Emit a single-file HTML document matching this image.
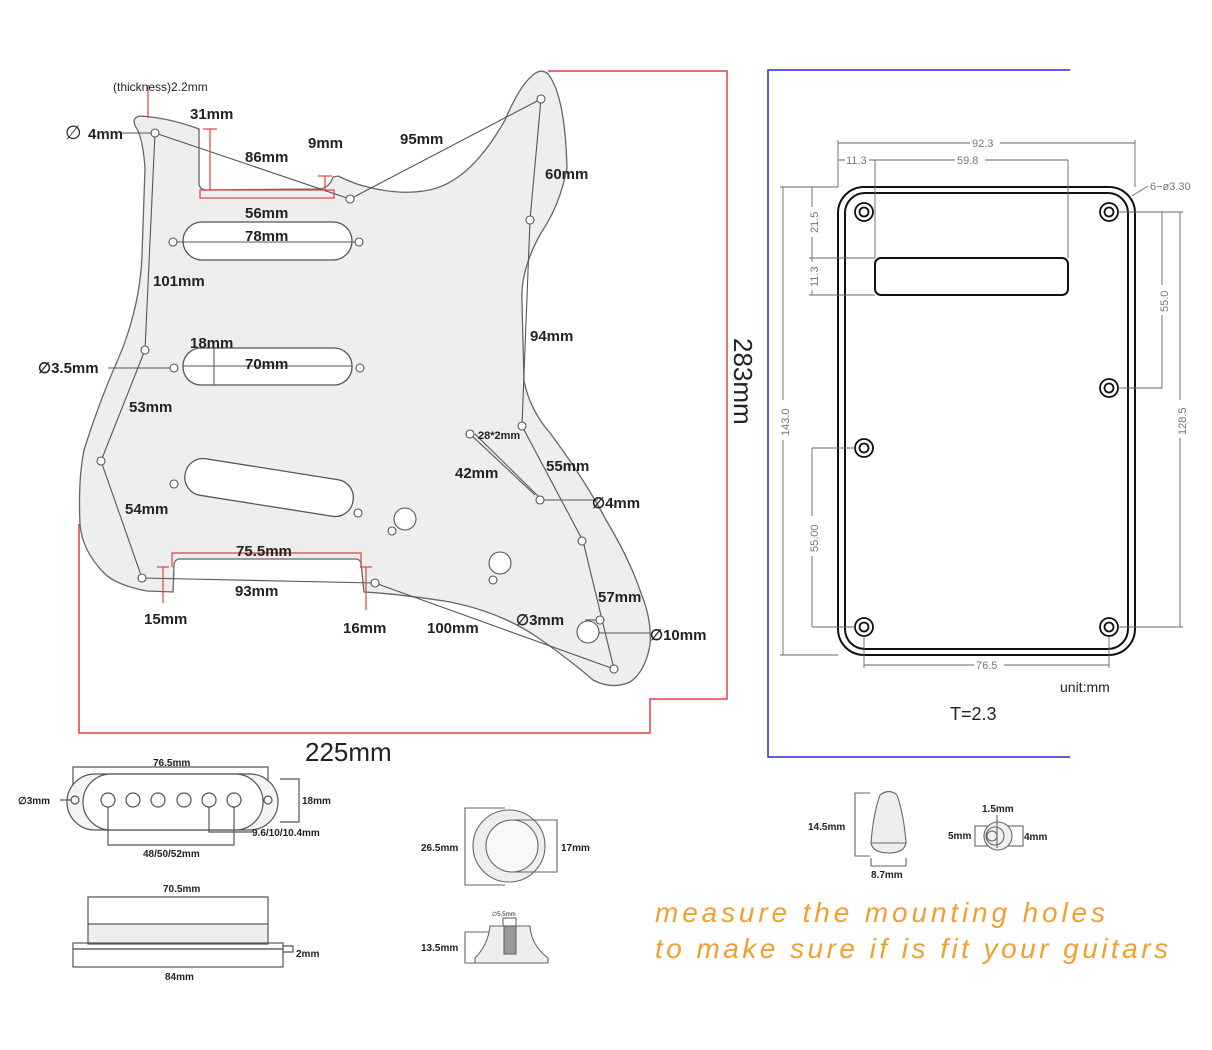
<!DOCTYPE html>
<html><head><meta charset="utf-8"><style>
html,body{margin:0;padding:0;background:#fff}
svg{display:block}
text{font-family:"Liberation Sans",sans-serif;fill:#222}
.b{font-weight:bold;font-size:15px}
.s{font-size:10px;font-weight:bold}
.g{font-size:11px;fill:#777}
</style></head><body>
<svg width="1212" height="1050" viewBox="0 0 1212 1050" xmlns="http://www.w3.org/2000/svg">
<!-- red frame -->
<path d="M548 71 H727 V699 H650 V733 H79 V524" fill="none" stroke="#e04040" stroke-width="1.5"/>
<!-- pickguard -->
<path d="M140 116 Q170 118 199 129 L199 184 Q200 190 207 190 L320 189 Q330 187 333 177 L338 176 Q355 184 364 186 Q400 196 429 190 Q470 182 505 120 Q520 85 533 75 Q541 68 548 74 Q565 95 567 168 Q560 205 541 233 Q520 270 522 303 L524 381 Q530 410 550 433 Q585 480 606 520 Q630 560 641 593 Q652 620 650 645 Q645 672 630 682 Q612 690 593 680 Q570 660 537 637 Q500 612 450 602 Q400 594 364 592 L361 563 Q360 559 355 559 L179 559 Q174 560 174 565 L173 592 L147 591 Q115 585 103 572 Q82 550 80 524 Q78 480 84 450 Q100 400 116 364 Q140 310 142 255 L145 168 Q143 140 137 129 Q130 118 140 116 Z" fill="#eeeeee" stroke="#666" stroke-width="1.3"/>
<!-- pickup slots -->
<rect x="183" y="222" width="169" height="38" rx="19" fill="#fff" stroke="#555" stroke-width="1.3"/>
<rect x="183" y="348" width="169" height="37" rx="18" fill="#fff" stroke="#555" stroke-width="1.3"/>
<rect x="184" y="469" width="170" height="37" rx="18" fill="#fff" stroke="#555" stroke-width="1.3" transform="rotate(9 269 488)"/>
<line x1="214" y1="348" x2="214" y2="385" stroke="#555"/>
<line x1="183" y1="366" x2="352" y2="366" stroke="#555"/>
<line x1="173" y1="242" x2="359" y2="242" stroke="#555"/>
<!-- dim lines -->
<g fill="none" stroke="#555" stroke-width="1.1">
<polyline points="155,133 350,199 541,99 530,220 522,426 583,541 614,669"/>
<polyline points="155,133 145,350 101,461 142,578 375,583 614,669"/>
<line x1="470" y1="434" x2="535" y2="495"/><line x1="475" y1="434" x2="540" y2="498"/>
<line x1="540" y1="500" x2="598" y2="500"/>
<line x1="108" y1="368" x2="174" y2="368"/>
<line x1="120" y1="133" x2="155" y2="133"/>
<line x1="585" y1="620" x2="596" y2="620"/>
<line x1="588" y1="633" x2="650" y2="633"/>
</g>
<!-- holes -->
<g fill="#fff" stroke="#555" stroke-width="1.1">
<circle cx="155" cy="133" r="4"/><circle cx="541" cy="99" r="4"/><circle cx="350" cy="199" r="4"/>
<circle cx="173" cy="242" r="4"/><circle cx="359" cy="242" r="4"/><circle cx="174" cy="368" r="4"/><circle cx="360" cy="368" r="4"/>
<circle cx="145" cy="350" r="4"/><circle cx="101" cy="461" r="4"/><circle cx="174" cy="484" r="4"/><circle cx="358" cy="513" r="4"/>
<circle cx="530" cy="220" r="4"/><circle cx="522" cy="426" r="4"/><circle cx="470" cy="434" r="4"/><circle cx="540" cy="500" r="4"/>
<circle cx="582" cy="541" r="4"/><circle cx="142" cy="578" r="4"/><circle cx="375" cy="583" r="4"/><circle cx="614" cy="669" r="4"/><circle cx="600" cy="620" r="4"/>
<circle cx="405" cy="519" r="11"/><circle cx="500" cy="563" r="11"/><circle cx="588" cy="632" r="11"/>
<circle cx="392" cy="531" r="4"/><circle cx="493" cy="580" r="4"/>
</g>
<!-- red small dims -->
<g fill="none" stroke="#e04040" stroke-width="1.2">
<line x1="148" y1="85" x2="148" y2="118"/>
<line x1="210" y1="129" x2="210" y2="190"/><line x1="203" y1="129" x2="217" y2="129"/>
<rect x="200" y="190" width="134" height="8"/>
<line x1="325" y1="176" x2="325" y2="190"/><line x1="318" y1="176" x2="332" y2="176"/>
<polyline points="172,567 172,553 361,553 361,567"/>
<line x1="163" y1="567" x2="163" y2="603"/><line x1="157" y1="567" x2="169" y2="567"/>
<line x1="366" y1="567" x2="366" y2="610"/><line x1="360" y1="567" x2="372" y2="567"/>
</g>
<!-- labels -->
<text x="113" y="91" font-size="12">(thickness)2.2mm</text>
<text x="65" y="139" font-size="19">∅</text><text x="88" y="139" class="b">4mm</text>
<text x="190" y="119" class="b">31mm</text>
<text x="308" y="148" class="b">9mm</text>
<text x="400" y="144" class="b">95mm</text>
<text x="245" y="162" class="b">86mm</text>
<text x="545" y="179" class="b">60mm</text>
<text x="245" y="218" class="b">56mm</text>
<text x="245" y="241" class="b">78mm</text>
<text x="153" y="286" class="b">101mm</text>
<text x="190" y="348" class="b">18mm</text>
<text x="245" y="369" class="b">70mm</text>
<text x="38" y="373" class="b">∅3.5mm</text>
<text x="530" y="341" class="b">94mm</text>
<text x="129" y="412" class="b">53mm</text>
<text x="478" y="439" font-size="11" font-weight="bold">28*2mm</text>
<text x="455" y="478" class="b">42mm</text>
<text x="546" y="471" class="b">55mm</text>
<text x="592" y="508" class="b">∅4mm</text>
<text x="125" y="514" class="b">54mm</text>
<text x="236" y="556" class="b">75.5mm</text>
<text x="235" y="596" class="b">93mm</text>
<text x="144" y="624" class="b">15mm</text>
<text x="343" y="633" class="b">16mm</text>
<text x="427" y="633" class="b">100mm</text>
<text x="516" y="625" class="b">∅3mm</text>
<text x="598" y="602" class="b">57mm</text>
<text x="650" y="640" class="b">∅10mm</text>
<text x="305" y="761" font-size="26">225mm</text>
<text transform="translate(734,338) rotate(90)" font-size="26">283mm</text>

<!-- backplate -->
<path d="M1070 70 H768 V757 H1070" fill="none" stroke="#2a2ad0" stroke-width="1.5"/>
<rect x="838" y="187" width="297" height="468" rx="26" fill="#fff" stroke="#111" stroke-width="2"/>
<rect x="845" y="193" width="283" height="456" rx="20" fill="none" stroke="#111" stroke-width="2"/>
<rect x="875" y="258" width="193" height="37" rx="6" fill="#fff" stroke="#111" stroke-width="2"/>
<g fill="none" stroke="#111" stroke-width="1.8">
<circle cx="864" cy="212" r="9"/><circle cx="864" cy="212" r="4.5"/>
<circle cx="1109" cy="212" r="9"/><circle cx="1109" cy="212" r="4.5"/>
<circle cx="1109" cy="388" r="9"/><circle cx="1109" cy="388" r="4.5"/>
<circle cx="864" cy="448" r="9"/><circle cx="864" cy="448" r="4.5"/>
<circle cx="864" cy="627" r="9"/><circle cx="864" cy="627" r="4.5"/>
<circle cx="1109" cy="627" r="9"/><circle cx="1109" cy="627" r="4.5"/>
</g>
<g fill="none" stroke="#666" stroke-width="0.9">
<line x1="838" y1="143" x2="1135" y2="143"/><line x1="838" y1="140" x2="838" y2="187"/><line x1="1135" y1="140" x2="1135" y2="187"/>
<line x1="838" y1="160" x2="1068" y2="160"/><line x1="875" y1="160" x2="875" y2="258"/><line x1="1068" y1="160" x2="1068" y2="258"/>
<line x1="783" y1="187" x2="783" y2="655"/><line x1="780" y1="187" x2="838" y2="187"/><line x1="780" y1="655" x2="838" y2="655"/>
<line x1="812" y1="187" x2="812" y2="295"/><line x1="809" y1="258" x2="875" y2="258"/><line x1="809" y1="295" x2="875" y2="295"/>
<line x1="812" y1="448" x2="812" y2="627"/><line x1="812" y1="448" x2="855" y2="448"/><line x1="812" y1="627" x2="855" y2="627"/>
<line x1="1162" y1="212" x2="1162" y2="388"/><line x1="1118" y1="212" x2="1183" y2="212"/><line x1="1118" y1="388" x2="1162" y2="388"/>
<line x1="1180" y1="212" x2="1180" y2="627"/><line x1="1118" y1="627" x2="1183" y2="627"/>
<line x1="864" y1="665" x2="1109" y2="665"/><line x1="864" y1="636" x2="864" y2="668"/><line x1="1109" y1="636" x2="1109" y2="668"/>
<line x1="1132" y1="196" x2="1148" y2="186"/>
</g>
<g class="g">
<rect x="970" y="137" width="30" height="12" fill="#fff"/><text x="972" y="147" class="g">92.3</text>
<rect x="845" y="154" width="24" height="12" fill="#fff"/><text x="846" y="164" class="g">11.3</text>
<rect x="955" y="154" width="30" height="12" fill="#fff"/><text x="957" y="164" class="g">59.8</text>
<text x="1150" y="190" class="g">6−ø3.30</text>
<rect x="974" y="659" width="30" height="12" fill="#fff"/><text x="976" y="669" class="g">76.5</text>
<rect x="777" y="400" width="12" height="40" fill="#fff"/><text transform="translate(789,436) rotate(-90)" class="g">143.0</text>
<rect x="806" y="207" width="12" height="30" fill="#fff"/><text transform="translate(818,233) rotate(-90)" class="g">21.5</text>
<rect x="806" y="262" width="12" height="28" fill="#fff"/><text transform="translate(818,287) rotate(-90)" class="g">11.3</text>
<rect x="806" y="516" width="12" height="40" fill="#fff"/><text transform="translate(818,552) rotate(-90)" class="g">55.00</text>
<rect x="1156" y="285" width="12" height="30" fill="#fff"/><text transform="translate(1168,312) rotate(-90)" class="g">55.0</text>
<rect x="1174" y="400" width="12" height="38" fill="#fff"/><text transform="translate(1186,435) rotate(-90)" class="g">128.5</text>
</g>
<text x="1060" y="692" font-size="14">unit:mm</text>
<text x="950" y="720" font-size="18">T=2.3</text>

<!-- pickup top view -->
<g fill="none" stroke="#555" stroke-width="1.2">
<polyline points="73,790 73,767 268,767 268,790"/>
<rect x="67" y="774" width="211" height="56" rx="28" fill="#f4f4f4"/>
<rect x="83" y="774" width="180" height="56" rx="28" fill="#fff"/>
<circle cx="108" cy="800" r="7"/><circle cx="133" cy="800" r="7"/><circle cx="158" cy="800" r="7"/><circle cx="184" cy="800" r="7"/><circle cx="209" cy="800" r="7"/><circle cx="234" cy="800" r="7"/>
<circle cx="75" cy="800" r="4"/><circle cx="268" cy="800" r="4"/>
<line x1="60" y1="800" x2="71" y2="800"/>
<polyline points="280,779 299,779 299,822 280,822"/>
<polyline points="108,807 108,845 234,845 234,807"/>
<polyline points="209,807 209,832 252,832"/>
</g>
<text x="18" y="804" font-size="10" font-weight="bold">∅3mm</text>
<text x="153" y="766" font-size="10" font-weight="bold">76.5mm</text>
<text x="302" y="804" class="s">18mm</text>
<text x="252" y="836" class="s">9.6/10/10.4mm</text>
<text x="143" y="857" class="s">48/50/52mm</text>
<!-- pickup side view -->
<g fill="none" stroke="#555" stroke-width="1.2">
<rect x="88" y="924" width="180" height="20" fill="#eeeeee"/>
<polyline points="88,924 88,897 268,897 268,924"/>
<rect x="73" y="943" width="210" height="6"/>
<rect x="73" y="949" width="210" height="18"/>
<polyline points="283,946 293,946 293,952 283,952"/>
</g>
<text x="163" y="892" class="s">70.5mm</text>
<text x="296" y="957" class="s">2mm</text>
<text x="165" y="980" class="s">84mm</text>
<!-- knob -->
<g fill="none" stroke="#666" stroke-width="1.1">
<polyline points="505,808 465,808 465,885 505,885"/>
<circle cx="509" cy="846" r="36" fill="#eeeeee"/>
<circle cx="512" cy="846" r="26" fill="#f8f8f8"/>
<polyline points="512,820 557,820 557,872 512,872"/>
<polyline points="490,932 465,932 465,963 490,963"/>
<path d="M490 926 H530 Q531 945 548 958 V963 H475 V958 Q488 945 490 926Z" fill="#eeeeee"/>
<rect x="503" y="918" width="13" height="8"/>
<rect x="504" y="926" width="12" height="28" fill="#999"/>
</g>
<text x="421" y="851" class="s">26.5mm</text>
<text x="561" y="851" class="s">17mm</text>
<text x="492" y="916" font-size="6">∅5.5mm</text>
<text x="421" y="951" class="s">13.5mm</text>
<!-- switch tip -->
<g fill="none" stroke="#666" stroke-width="1.1">
<polyline points="870,793 855,793 855,856 870,856"/>
<path d="M880 795 Q889 788 897 795 Q904 815 906 843 Q904 853 889 853 Q873 853 871 843 Q873 815 880 795Z" fill="#eeeeee"/>
<line x1="871" y1="843" x2="906" y2="843"/>
<polyline points="871,858 871,866 906,866 906,858"/>
<rect x="975" y="826" width="48" height="20"/>
<circle cx="998" cy="836" r="14" fill="#f0f0f0"/><circle cx="995" cy="836" r="9"/><circle cx="992" cy="836" r="5"/>
<line x1="997" y1="815" x2="997" y2="848"/>
</g>
<text x="808" y="830" class="s">14.5mm</text>
<text x="871" y="878" class="s">8.7mm</text>
<text x="982" y="812" class="s">1.5mm</text>
<text x="948" y="839" class="s">5mm</text>
<text x="1024" y="840" class="s">4mm</text>
<!-- orange text -->
<text x="655" y="922" font-size="28" font-style="italic" textLength="450" style="fill:#f0a032">measure the mounting holes</text>
<text x="655" y="958" font-size="28" font-style="italic" textLength="513" style="fill:#f0a032">to make sure if is fit your guitars</text>
</svg>
</body></html>
